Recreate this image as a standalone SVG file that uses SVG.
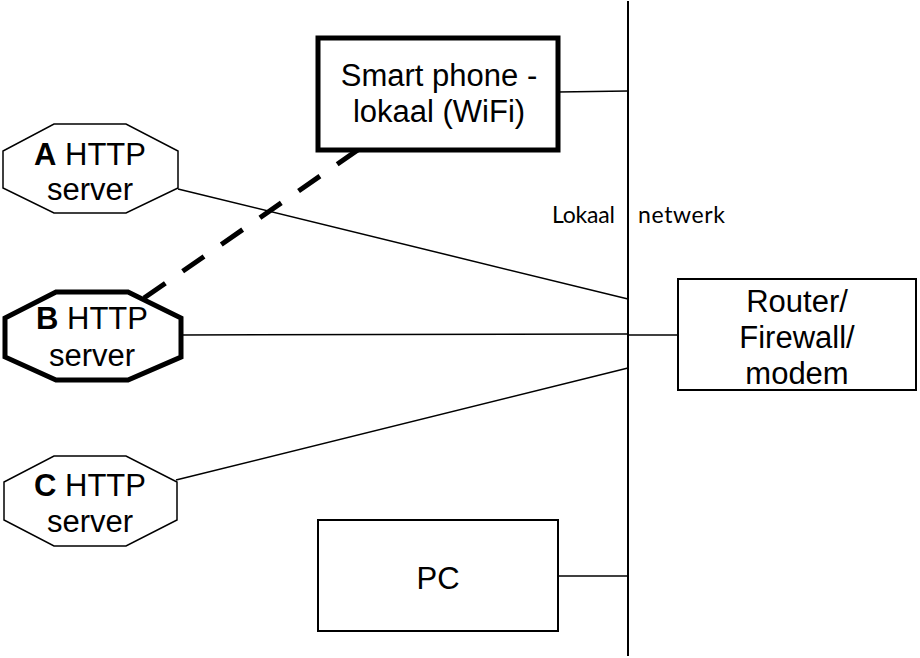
<svg xmlns="http://www.w3.org/2000/svg" width="920" height="658" viewBox="0 0 920 658">
<style>
.t{font-family:"Liberation Sans",Arial,sans-serif;font-size:31px;fill:#000;text-anchor:middle}
.b{font-weight:bold}
.thin{fill:#fff;stroke:#000;stroke-width:1.5}
.box{fill:#fff;stroke:#000;stroke-width:2}
.thick{fill:#fff;stroke:#000;stroke-width:5}
.c{stroke:#000;stroke-width:1.5;fill:none}
.lbl{font-family:Lato,"Open Sans",sans-serif;font-size:23px;fill:#000}
</style>
<rect width="920" height="658" fill="#fff"/>
<g id="connectors">
<line class="c" x1="628" y1="1" x2="628" y2="656" style="stroke-width:2"/>
<line class="c" x1="558" y1="92" x2="628" y2="91"/>
<line class="c" x1="178" y1="189" x2="628" y2="299"/>
<line class="c" x1="181" y1="335" x2="628" y2="334"/>
<line class="c" x1="628" y1="335" x2="678" y2="335"/>
<line class="c" x1="176" y1="480" x2="628" y2="368"/>
<line class="c" x1="558" y1="576" x2="628" y2="576"/>
<line x1="144" y1="298" x2="362" y2="147" stroke="#000" stroke-width="5" stroke-dasharray="26 21"/>
</g>
<g id="label-lokaal">
<text class="lbl" y="223"><tspan x="552" textLength="63">Lokaal</tspan><tspan x="638" textLength="87">netwerk</tspan></text>
</g>
<g id="smartphone">
<rect class="thick" x="318" y="38" width="240" height="112"/>
<text class="t" x="439" y="86">Smart phone -</text>
<text class="t" x="439" y="122">lokaal (WiFi)</text>
</g>
<g id="serverA">
<polygon class="thin" points="54,124 126,124 178,151 178,188 126,213 54,213 3,188 3,151"/>
<text class="t" x="90" y="165"><tspan class="b">A</tspan> HTTP</text>
<text class="t" x="90" y="200">server</text>
</g>
<g id="serverB">
<polygon class="thick" points="56,292 128,292 181,318 181,357 128,380 56,380 5,357 5,318"/>
<text class="t" x="92" y="329"><tspan class="b">B</tspan> HTTP</text>
<text class="t" x="92" y="366">server</text>
</g>
<g id="serverC">
<polygon class="thin" points="54,456 126,456 177,482 177,520 126,546 54,546 4,520 4,482"/>
<text class="t" x="90" y="496"><tspan class="b">C</tspan> HTTP</text>
<text class="t" x="90" y="532">server</text>
</g>
<g id="router">
<rect class="box" x="678" y="279" width="238" height="111"/>
<text class="t" x="797" y="312">Router/</text>
<text class="t" x="797" y="348">Firewall/</text>
<text class="t" x="797" y="384">modem</text>
</g>
<g id="pc">
<rect class="box" x="318" y="520" width="240" height="111"/>
<text class="t" x="438" y="589">PC</text>
</g>
</svg>
